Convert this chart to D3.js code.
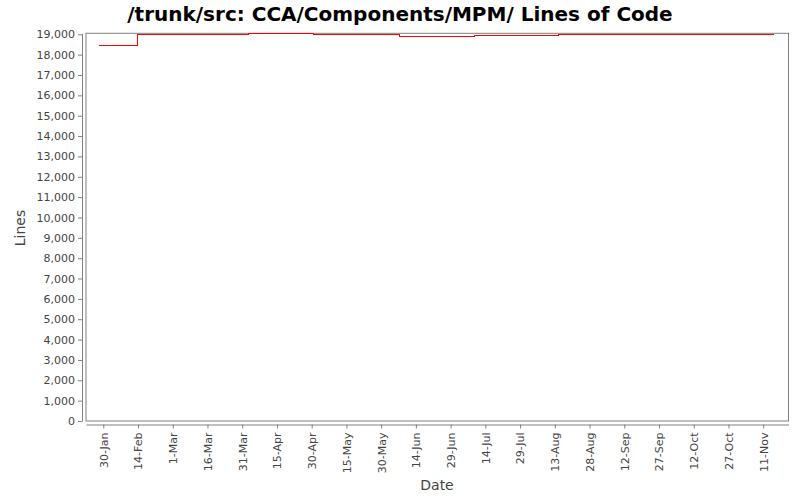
<!DOCTYPE html>
<html>
<head>
<meta charset="utf-8">
<script src="https://cdn.jsdelivr.net/npm/d3@7"></script>
<style>
  body { margin: 0; background: #fff; }
  text { font-family: "DejaVu Sans", sans-serif; }
</style>
</head>
<body>
<div id="chart"></div>
<script>
// step points (date the count changed, lines of code)
var stepDates = ["2009-01-28T02:00", "2009-02-13T14:00", "2009-04-02T14:00", "2009-04-30T16:00",
                 "2009-06-06T19:00", "2009-07-09T05:00", "2009-08-14T12:00", "2009-11-15T17:00"];
var stepLines = [18460, 19000, 19040, 19000, 18900, 18950, 19000, 19000];

var xTickDates = ["2009-01-30", "2009-02-14", "2009-03-01", "2009-03-16", "2009-03-31", "2009-04-15",
                  "2009-04-30", "2009-05-15", "2009-05-30", "2009-06-14", "2009-06-29", "2009-07-14",
                  "2009-07-29", "2009-08-13", "2009-08-28", "2009-09-12", "2009-09-27", "2009-10-12",
                  "2009-10-27", "2009-11-11"];
var yTicks = d3.range(0, 19001, 1000);

var WIDTH = 800, HEIGHT = 500;
var PLOT = { LEFT: 86, RIGHT: 788.5, TOP: 33.3, BOTTOM: 421 };

var parse = d3.timeParse("%Y-%m-%dT%H:%M");
var parseDay = d3.timeParse("%Y-%m-%d");
var chartData = stepDates.map((d, i) => ({ date: parse(d), lines: stepLines[i] }));

var xScale = d3.scaleTime()
  .domain([parse("2009-01-22T13:00"), parse("2009-11-21T22:00")])
  .range([PLOT.LEFT, PLOT.RIGHT]);
var yScale = d3.scaleLinear()
  .domain([0, 19049])
  .range([PLOT.BOTTOM, PLOT.TOP]);

var svg = d3.select("#chart").append("svg")
  .attr("width", WIDTH)
  .attr("height", HEIGHT);

// title
svg.append("text")
  .attr("x", 400)
  .attr("y", 21)
  .attr("text-anchor", "middle")
  .attr("font-size", 20)
  .attr("font-weight", "bold")
  .attr("fill", "#000")
  .text("/trunk/src: CCA/Components/MPM/ Lines of Code");

// plot border
svg.append("rect")
  .attr("x", PLOT.LEFT)
  .attr("y", PLOT.TOP)
  .attr("width", PLOT.RIGHT - PLOT.LEFT)
  .attr("height", PLOT.BOTTOM - PLOT.TOP)
  .attr("fill", "#fff")
  .attr("stroke", "#808080")
  .attr("stroke-width", 1);

// y axis
var yAxisCall = d3.axisLeft(yScale)
  .tickValues(yTicks)
  .tickSize(4)
  .tickSizeOuter(0)
  .tickPadding(3)
  .tickFormat(d3.format(","));

var gy = svg.append("g")
  .attr("class", "y axis")
  .attr("transform", "translate(82,0)")
  .call(yAxisCall);
gy.select(".domain").attr("stroke", "#808080");
gy.selectAll(".tick line").attr("stroke", "#808080");
gy.selectAll(".tick text")
  .attr("font-size", 11)
  .attr("fill", "#444")
  .style("font-family", "DejaVu Sans");

// x axis
var xAxisCall = d3.axisBottom(xScale)
  .tickValues(xTickDates.map(parseDay))
  .tickSize(4)
  .tickSizeOuter(0)
  .tickFormat(d3.timeFormat("%-d-%b"));

var gx = svg.append("g")
  .attr("class", "x axis")
  .attr("transform", "translate(0,424.5)")
  .call(xAxisCall);
gx.select(".domain").attr("stroke", "#808080");
gx.selectAll(".tick line").attr("stroke", "#808080");
gx.selectAll(".tick text")
  .attr("font-size", 11)
  .attr("fill", "#444")
  .style("font-family", "DejaVu Sans")
  .style("text-anchor", "end")
  .attr("x", 0)
  .attr("y", 0)
  .attr("dy", "0.35em")
  .attr("transform", "translate(0,8) rotate(-90)");

// axis labels
svg.append("text")
  .attr("x", 437)
  .attr("y", 490)
  .attr("text-anchor", "middle")
  .attr("font-size", 14)
  .attr("fill", "#444")
  .text("Date");

svg.append("text")
  .attr("transform", "translate(25,228) rotate(-90)")
  .attr("text-anchor", "middle")
  .attr("font-size", 14)
  .attr("fill", "#444")
  .text("Lines");

// step line
var line = d3.line()
  .curve(d3.curveStepAfter)
  .x(d => xScale(d.date))
  .y(d => yScale(d.lines));

svg.append("path")
  .datum(chartData)
  .attr("fill", "none")
  .attr("stroke", "#ff0000")
  .attr("stroke-width", 1)
  .attr("shape-rendering", "crispEdges")
  .attr("d", line);
</script>
</body>
</html>
